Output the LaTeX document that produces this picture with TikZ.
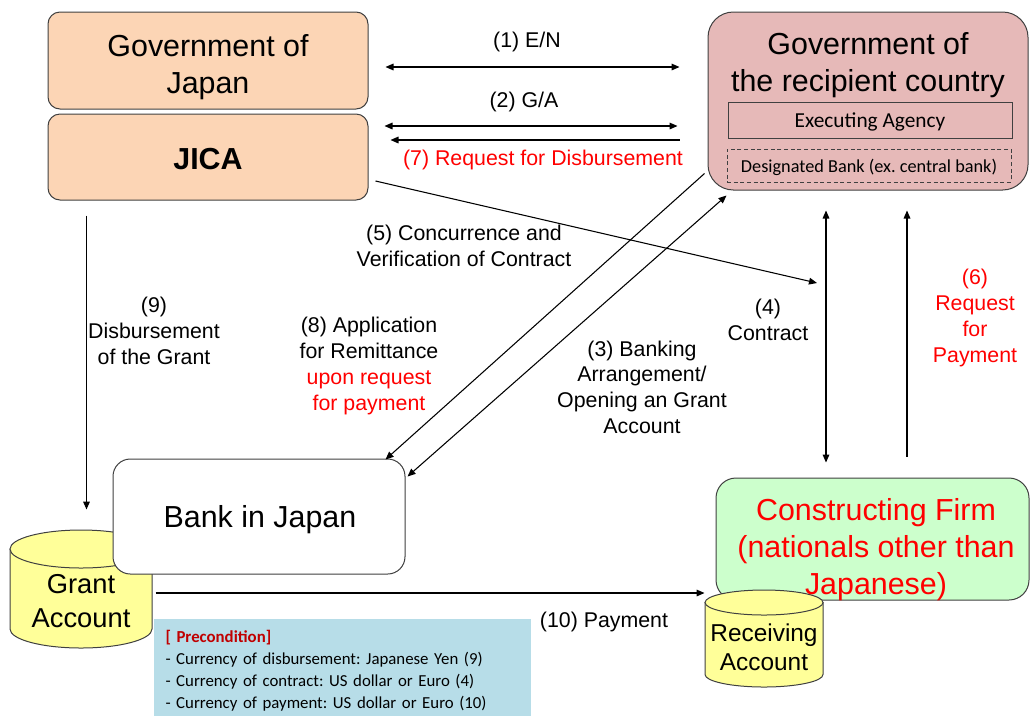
\documentclass[tikz,border=0pt]{standalone}
\usepackage{fontspec}
\setmainfont{Liberation Sans}
\newfontfamily\calibrifont{Carlito}
\usetikzlibrary{arrows.meta,calc}

\definecolor{peach}{RGB}{252,213,181}
\definecolor{rose}{RGB}{230,185,184}
\definecolor{mint}{RGB}{204,255,204}
\definecolor{butter}{RGB}{255,255,153}
\definecolor{skyblue}{RGB}{183,221,232}
\definecolor{darkred}{RGB}{192,0,0}
\definecolor{edge}{RGB}{64,64,64}

\frenchspacing
\tikzset{every picture/.style={line width=0.75pt}}
\tikzset{
  bigtext/.style={font=\fontsize{22.8}{27.75}\selectfont, align=center},
  lbl/.style={font=\fontsize{16}{19.3}\selectfont, align=center},
  box/.style={draw=edge, line width=0.75pt, rounded corners=9pt, inner sep=0pt},
  cyl/.style={draw=edge, line width=0.75pt, fill=butter},
  tip1/.style={-{Triangle[length=6pt,width=5pt]}, line width=0.8pt},
  tip2/.style={{Triangle[length=6pt,width=5pt]}-{Triangle[length=6pt,width=5pt]}, line width=0.8pt},
}

\begin{document}
\begin{tikzpicture}[x=0.75pt,y=0.75pt,yscale=-1,xscale=1]
\useasboundingbox (0,0) rectangle (1030,715);

%Shape: Government of Japan
\node[box, fill=peach, minimum width=240pt, minimum height=72.75pt] (gj) at (208,60.5) {};
\node[bigtext] (gjt) at (208,67.5) {Government of\\Japan};
%Shape: JICA
\node[box, fill=peach, minimum width=240pt, minimum height=64.5pt] (ji) at (208,157) {};
\node[font=\fontsize{22.8}{27.75}\selectfont\bfseries] (jit) at (208,159) {JICA};

%Shape: Government of the recipient country
\node[box, fill=rose, rounded corners=19pt, minimum width=240pt, minimum height=133.5pt] (rc) at (868,101) {};
\node[bigtext] (rct) at (868,65.5) {Government of\\the recipient country};
\node[draw=edge, line width=0.75pt, minimum width=213pt, minimum height=27pt, inner sep=0pt] (ea) at (870,120) {};
\node[font=\calibrifont\fontsize{16}{19}\selectfont] (eat) at (870,122) {Executing Agency};
\node[draw=edge, line width=0.75pt, dash pattern=on 3pt off 2pt, minimum width=213pt, minimum height=24.75pt, inner sep=0pt] (db) at (869,165.5) {};
\node[font=\calibrifont\fontsize{13.7}{16}\selectfont] (dbt) at (869,167.5) {Designated Bank (ex. central bank)};

%Shape: Can (Grant Account)
\draw[cyl] (10,549) -- (10,629) arc[start angle=180, end angle=0, x radius=71, y radius=19] -- (152,549) -- cycle;
\draw[cyl] (81,549) ellipse[x radius=71, y radius=19];

%Shape: Bank in Japan
\node[box, fill=white, rounded corners=13pt, minimum width=219pt, minimum height=86.25pt] (bj) at (259,516.5) {};
\node[bigtext] (bjt) at (260,519.5) {Bank in Japan};
\node[font=\fontsize{20.5}{25.5}\selectfont, align=center, minimum width=106.5pt, minimum height=74.25pt, inner sep=0pt] (ga) at (81,601) {Grant\\Account};

%Shape: Constructing Firm
\node[box, fill=mint, rounded corners=15pt, minimum width=234.75pt, minimum height=91.5pt] (cf) at (872.5,539) {};

%Shape: Can (Receiving Account)
\draw[cyl] (705,602.5) -- (705,674.5) arc[start angle=180, end angle=0, x radius=59, y radius=12.5] -- (823,602.5) -- cycle;
\draw[cyl] (764,602.5) ellipse[x radius=59, y radius=12.5];
\node[font=\fontsize{18.3}{21.75}\selectfont, align=center, minimum width=88.5pt, minimum height=63.4pt, inner sep=0pt] (ra) at (764,647) {Receiving\\Account};
\node[bigtext, text=red] (cft) at (876,550) {Constructing Firm\\(nationals other than\\Japanese)};

%Text Node: Precondition
\node[fill=skyblue, anchor=north west, text width=264.75pt, inner xsep=9pt, inner ysep=9pt, align=left, font=\calibrifont\fontsize{12.6}{16.5}\selectfont] (pc) at (153,618) {{\color{darkred}\bfseries [ Precondition]}\\
- Currency of disbursement: Japanese Yen (9)\\
- Currency of contract: US dollar or Euro (4)\\
- Currency of payment: US dollar or Euro (10)};

%Straight Lines: (1) (2) (7)
\draw[tip2] ($(gj.east)+(17,6.5)$) coordinate (en1) -- ($(en1 -| rc.west)+(-28,0)$);
\draw[tip2] ($(ji.east)+(16,-31)$) coordinate (gaL) -- ($(gaL -| rc.west)+(-30,0)$);
\draw[tip1] ($(rc.west)+(-28,39)$) coordinate (rq7) -- ($(rq7 -| ji.east)+(22,0)$);

%Straight Lines: (5)
\coordinate (c5) at (817,283);
\draw[tip1] ($(ji.east)+(7,24)$) -- (c5);

%Straight Lines: (8) (3)
\draw[tip1] ($(rc.south west)+(-3,-17)$) -- ($(bj.north east)+(-20,1)$);
\draw[tip2] ($(bj.north east)+(2,18)$) -- ($(rc.south west)+(19,5)$);

%Straight Lines: (4) (6)
\draw[tip2] ($(rc.south)+(-42,20)$) coordinate (ct4) -- ($(ct4 |- cf.north)+(0,-15)$);
\draw[tip1] ($(cf.north)+(34.5,-21)$) coordinate (rp6) -- ($(rp6 |- rc.south)+(0,20)$);

%Straight Lines: (9) (10)
\draw[tip1] ($(ji.south west)+(39,15)$) coordinate (ds9) -- ($(ds9 |- ga.north)+(0,-41.5)$);
\draw[tip1] ($(ga.east)+(3,-8)$) coordinate (pm10) -- (pm10 -| ra.west);

%Text Nodes
\node[lbl] (l1) at (527,42) {(1) E/N};
\node[lbl] (l2) at (524,102) {(2) G/A};
\node[lbl, text=red] (l7) at (543,160) {(7) Request for Disbursement};
\node[lbl] (l5) at (464,246) {(5) Concurrence and\\Verification of Contract};
\node[lbl] (l9) at (154,331) {(9)\\Disbursement\\of the Grant};
\node[lbl] (l8) at (369,366) {(8) Application\\for Remittance\\\textcolor{red}{upon request}\\\textcolor{red}{for payment}};
\node[lbl] (l3) at (642,387) {(3) Banking\\Arrangement/\\Opening an Grant\\Account};
\node[lbl] (l4) at (768,320) {(4)\\Contract};
\node[lbl, text=red] (l6) at (975,318) {(6)\\Request\\for\\Payment};
\node[lbl] (l10) at (604,622) {(10) Payment};

\end{tikzpicture}
\end{document}
